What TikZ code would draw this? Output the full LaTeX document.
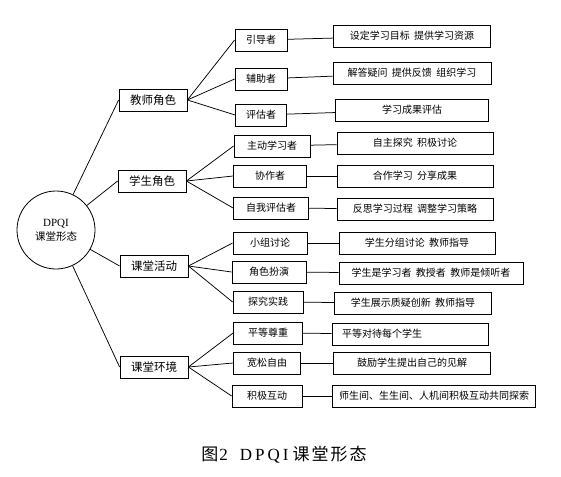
\documentclass[tikz,border=0pt]{standalone}
\usepackage{fontspec}
\setmainfont{Liberation Serif}
\newfontfamily\hei{Noto Sans CJK SC}
\usepackage{tikz}
\newcommand\gap{\hspace{0.45em}}

\begin{document}
\begin{tikzpicture}[x=1pt,y=-1pt,
  box/.style={draw,line width=0.8pt,inner sep=0pt,minimum height=22pt,
    font=\hei\fontsize{10}{10}\selectfont},
  rolebox/.style={box,minimum width=68pt,font=\hei\fontsize{11.5}{12}\selectfont},
  link/.style={line width=0.75pt}]
\useasboundingbox (0,0) rectangle (561,476);
% centre
\node[draw,circle,minimum size=78pt,inner sep=0pt,line width=0.8pt,align=center]
  (core) at (56,230)
  {\fontsize{11}{12}\selectfont DPQI\\[2pt]{\hei\fontsize{10.5}{11}\selectfont 课堂形态}};
% first level
\node[rolebox] (teach) at (153,100) {教师角色};
\node[rolebox] (stud) at (152,181) {学生角色};
\node[rolebox] (act) at (154,266) {课堂活动};
\node[rolebox] (env) at (154,367) {课堂环境};
% second level
\node[box,minimum width=52pt] (guide) at (261,40) {引导者};
\node[box,minimum width=52pt] (assist) at (261,79) {辅助者};
\node[box,minimum width=51pt] (assess) at (261,115) {评估者};
\node[box,minimum width=76pt] (active) at (272,146) {主动学习者};
\node[box,minimum width=73pt] (coop) at (270,176) {协作者};
\node[box,minimum width=75pt] (self) at (271,208) {自我评估者};
\node[box,minimum width=74pt] (group) at (270,243) {小组讨论};
\node[box,minimum width=74pt] (rolep) at (269,272) {角色扮演};
\node[box,minimum width=70pt] (inq) at (268,302) {探究实践};
\node[box,minimum width=69pt] (equal) at (268,333) {平等尊重};
\node[box,minimum width=67pt] (free) at (267,363) {宽松自由};
\node[box,minimum width=70pt] (inter) at (267,396) {积极互动};
% third level
\node[box,minimum width=157pt] (guidetxt) at (412,36) {设定学习目标\gap 提供学习资源};
\node[box,minimum width=158pt] (assisttxt) at (412,73) {解答疑问\gap 提供反馈\gap 组织学习};
\node[box,minimum width=153pt] (assesstxt) at (412,110) {学习成果评估};
\node[box,minimum width=156pt] (activetxt) at (415,143) {自主探究\gap 积极讨论};
\node[box,minimum width=156pt] (cooptxt) at (415,176) {合作学习\gap 分享成果};
\node[box,minimum width=156pt] (selftxt) at (415,209) {反思学习过程\gap 调整学习策略};
\node[box,minimum width=156pt] (grouptxt) at (417,243) {学生分组讨论\gap 教师指导};
\node[box,minimum width=184pt] (roleptxt) at (431,273) {学生是学习者\gap 教授者\gap 教师是倾听者};
\node[box,minimum width=157pt] (inqtxt) at (413,303) {学生展示质疑创新\gap 教师指导};
\node[box,inner xsep=10pt,text width=136pt,align=left] (equaltxt) at (410,334) {平等对待每个学生};
\node[box,minimum width=157pt] (freetxt) at (412,363) {鼓励学生提出自己的见解};
\node[box,minimum width=203pt] (intertxt) at (434,396) {师生间、生生间、人机间积极互动共同探索};
% links
\draw[link] (core) -- (teach.west);
\draw[link] (core) -- (stud.west);
\draw[link] (core) -- (act.west);
\draw[link] (core) -- (env.west);
\draw[link] (teach.east) -- (guide.west);
\draw[link] (teach.east) -- (assist.west);
\draw[link] (teach.east) -- (assess.west);
\draw[link] (stud.east) -- (active.west);
\draw[link] (stud.east) -- (coop.west);
\draw[link] (stud.east) -- (self.west);
\draw[link] (act.east) -- (group.west);
\draw[link] (act.east) -- (rolep.west);
\draw[link] (act.east) -- (inq.west);
\draw[link] (env.east) -- (equal.west);
\draw[link] (env.east) -- (free.west);
\draw[link] (env.east) -- (inter.west);
\draw[link] (guide) -- (guidetxt);
\draw[link] (assist) -- (assisttxt);
\draw[link] (assess) -- (assesstxt);
\draw[link] (active) -- (activetxt);
\draw[link] (coop) -- (cooptxt);
\draw[link] (self) -- (selftxt);
\draw[link] (group) -- (grouptxt);
\draw[link] (rolep) -- (roleptxt);
\draw[link] (inq) -- (inqtxt);
\draw[link] (equal) -- (equaltxt);
\draw[link] (free) -- (freetxt);
\draw[link] (inter) -- (intertxt);
% caption
\node[font=\fontsize{17}{18}\selectfont] (caption) at (284,455)
  {{\hei 图}\hspace{1pt}2\hspace{12pt}D\hspace{3pt}P\hspace{3pt}Q\hspace{3pt}I\hspace{4pt}{\hei 课\hspace{2pt}堂\hspace{2pt}形\hspace{2pt}态}};
\end{tikzpicture}
\end{document}
